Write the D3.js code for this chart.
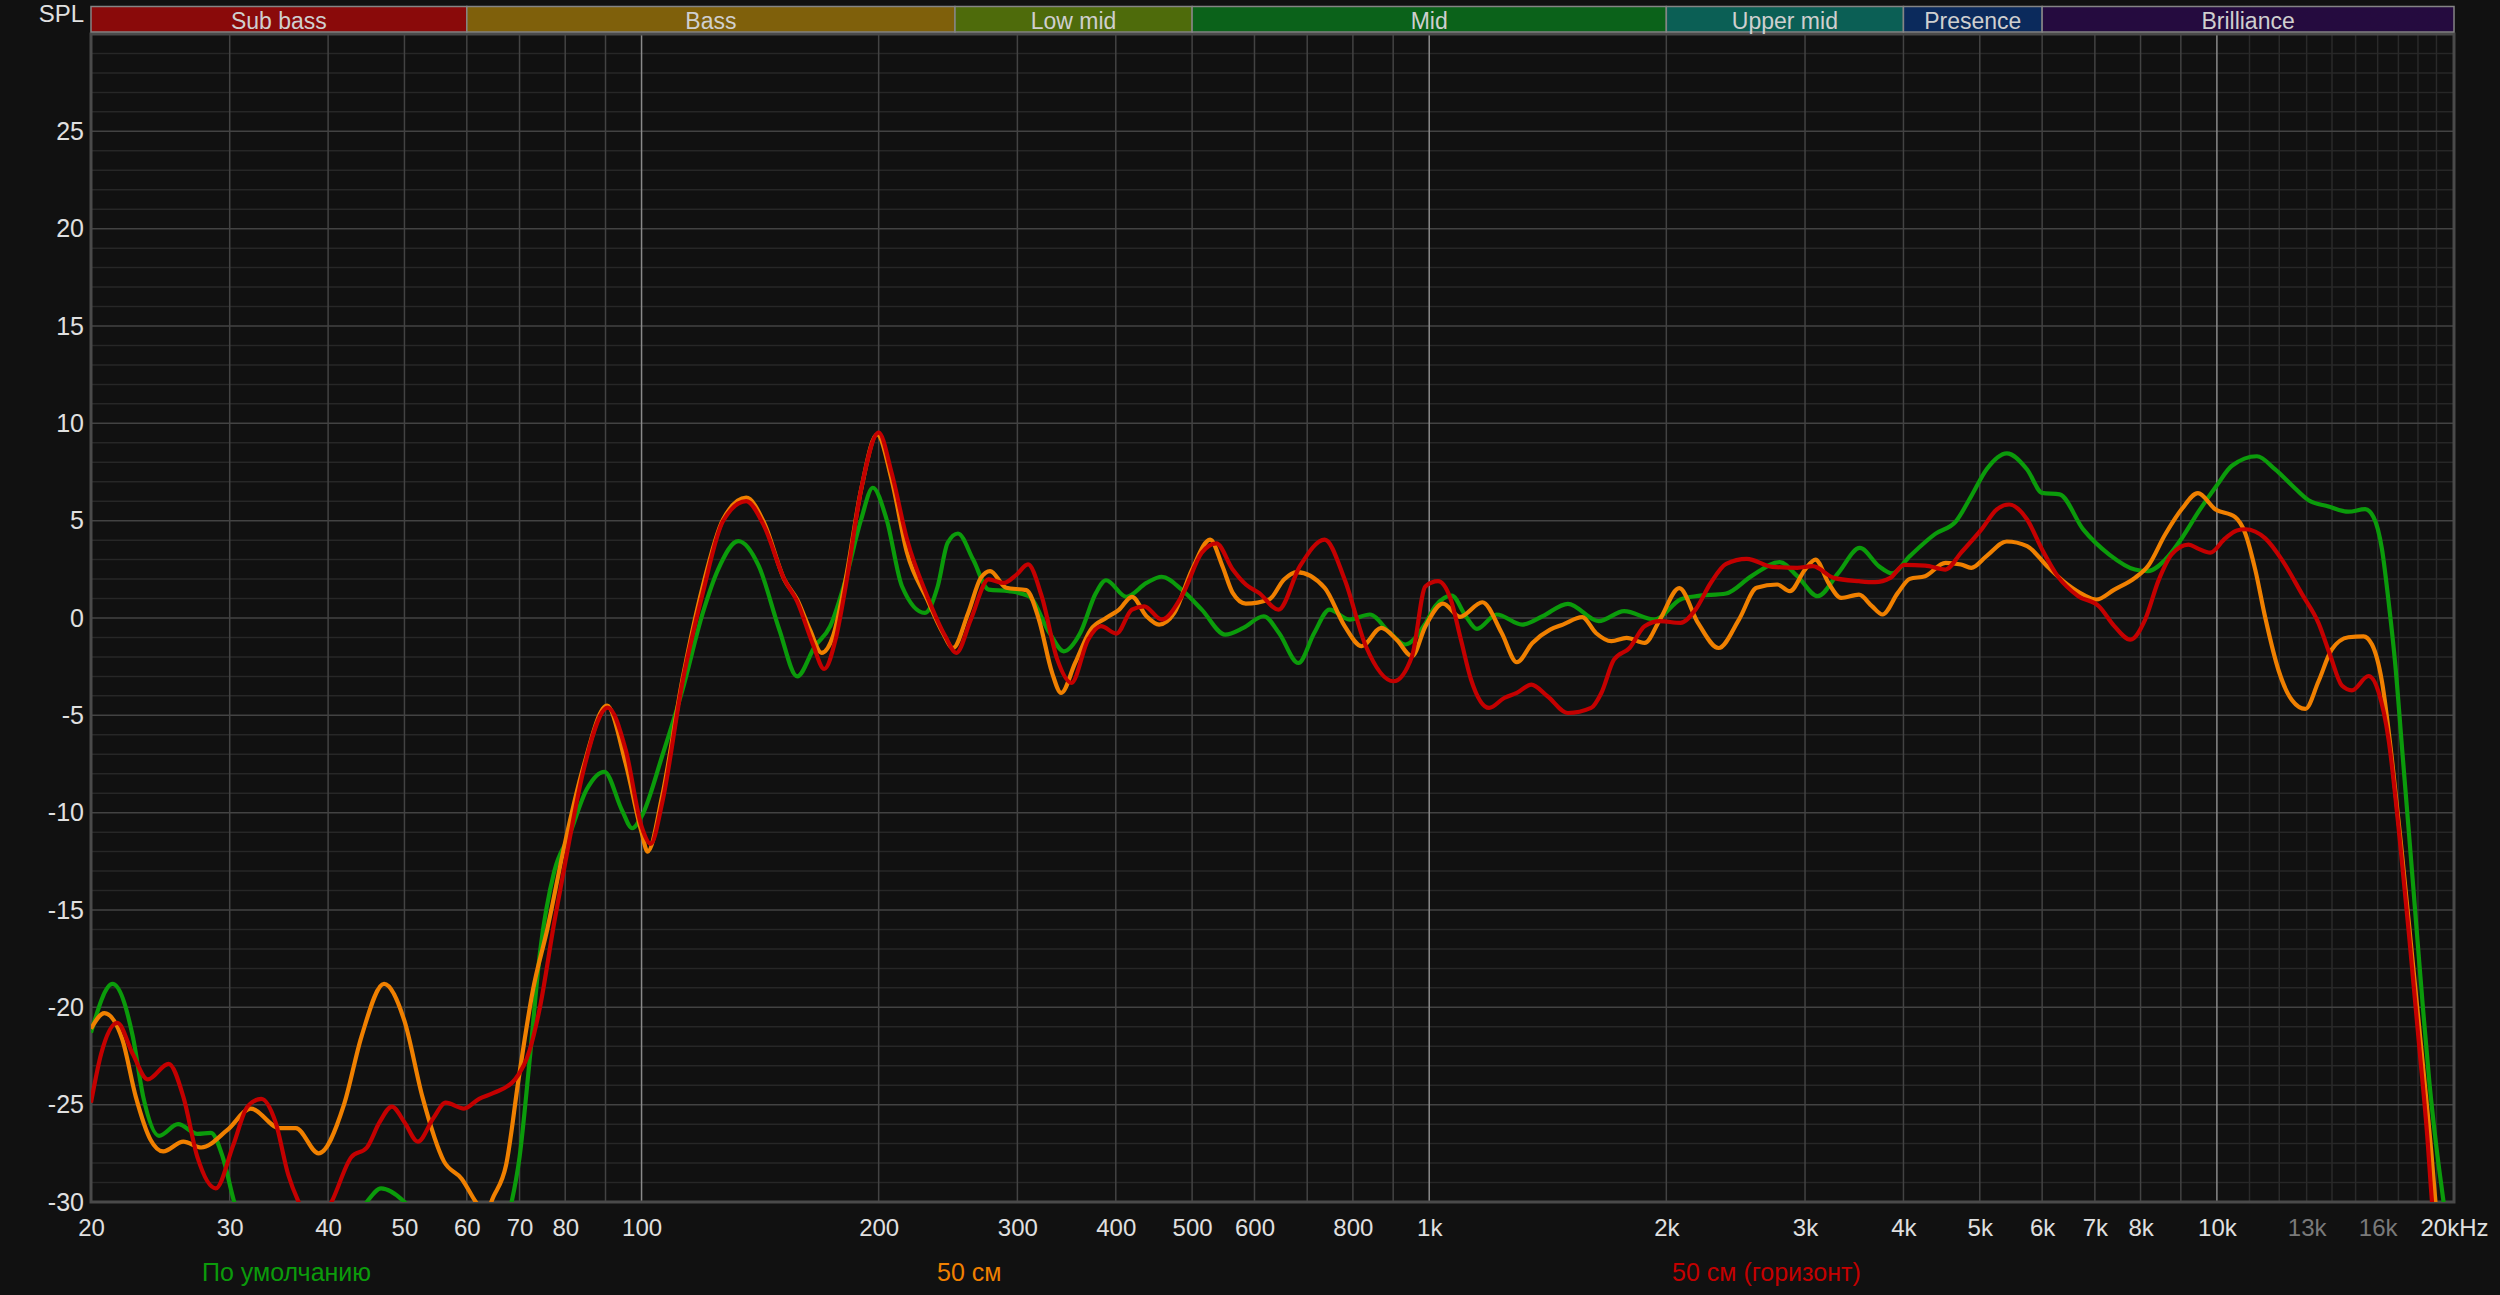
<!DOCTYPE html>
<html>
<head>
<meta charset="utf-8">
<script src="https://d3js.org/d3.v7.min.js"></script>
<style>
  body { margin: 0; background: #111111; }
  svg { display: block; }
  text { font-family: "Liberation Sans", Arial, sans-serif; }
</style>
</head>
<body>
<div id="chart"></div>
<script>
// frequency bands across the top
var bandNames = ["Sub bass", "Bass", "Low mid", "Mid", "Upper mid", "Presence", "Brilliance"];
var bandEdges = [20, 60, 250, 500, 2000, 4000, 6000, 20000];
var bandColors = ["#8a0a0a", "#7f600b", "#4e6b0b", "#0b621a", "#0b5f55", "#0b2a5c", "#250b3f"];

// axis ticks
var xTickValues = [20, 30, 40, 50, 60, 70, 80, 100, 200, 300, 400, 500, 600, 800, 1000,
    2000, 3000, 4000, 5000, 6000, 7000, 8000, 10000, 13000, 16000, 20000];
var xTickLabels = ["20", "30", "40", "50", "60", "70", "80", "100", "200", "300", "400", "500", "600", "800", "1k",
    "2k", "3k", "4k", "5k", "6k", "7k", "8k", "10k", "13k", "16k", "20kHz"];
var xDimTicks = [13000, 16000];
var yTickValues = [25, 20, 15, 10, 5, 0, -5, -10, -15, -20, -25, -30];

// legend
var seriesNames = ["По умолчанию", "50 см", "50 см (горизонт)"];
var seriesColors = ["#0b9b0b", "#f08000", "#c40000"];

// measured curves [Hz, dB]
var curveDefault = [[20,-21.3],[21.3,-18.8],[22.6,-21.5],[23.3,-24.6],[24.4,-26.6],[25.8,-26.0],[27.3,-26.5],[28.4,-26.45],
    [29.4,-27.7],[30.4,-30],[33,-33],[38,-34],[42,-32],[44.8,-30],[46.7,-29.3],[50,-30],[55,-32.5],[62,-34],[66,-32],
    [68.4,-30],[70,-27.7],[72.1,-22.7],[74.3,-17.2],[77.5,-13.0],[80.9,-11.2],[85.2,-8.8],[89.7,-7.9],[94.5,-9.9],
    [97.3,-10.8],[100,-10.2],[106.2,-7.1],[112.7,-3.7],[119.6,0.26],[125.1,2.5],[132.7,3.95],[140.9,2.66],[149.6,-0.6],
    [157.6,-3.0],[166,-1.45],[173.6,-0.42],[181.6,1.98],[190,5.06],[196.6,6.69],[204.7,5.06],[214.1,1.63],[228.9,0.26],
    [237.7,1.63],[244.7,3.86],[252.2,4.34],[263.6,3.0],[275.8,1.46],[292.6,1.38],[310.2,1.12],[329.6,-0.77],[343.5,-1.71],
    [360.5,-0.77],[377.5,1.29],[388.8,1.94],[412.6,1.09],[437.6,1.8],[457.4,2.12],[485,1.46],[514.3,0.43],[550.8,-0.85],
    [580.7,-0.51],[616.3,0.09],[644.6,-0.77],[682.1,-2.31],[714.5,-0.77],[747.1,0.43],[792.4,-0.08],[840.6,0.18],
    [891.7,-0.77],[932.2,-1.36],[990,-0.25],[1018,0.61],[1068,1.15],[1113,0.09],[1150,-0.56],[1218,0.18],[1312,-0.34],
    [1393,0.09],[1500,0.73],[1641,-0.16],[1768,0.35],[1933,-0.08],[2084,0.95],[2178,1.12],[2382,1.26],[2565,2.15],
    [2786,2.87],[2933,2.15],[3114,1.12],[3307,2.32],[3521,3.6],[3723,2.66],[3869,2.29],[4075,3.18],[4390,4.32],
    [4666,4.98],[4877,6.26],[5099,7.63],[5410,8.46],[5742,7.63],[5999,6.43],[6315,6.35],[6765,4.55],[7301,3.26],
    [7870,2.49],[8172,2.41],[8600,3.0],[9026,4.1],[9478,5.46],[10000,6.82],[10449,7.82],[11240,8.31],[11859,7.63],
    [12450,6.82],[13074,6.05],[13860,5.73],[14690,5.46],[15425,5.59],[15810,5.18],[16200,3.55],[16520,0.83],
    [16850,-2.44],[17190,-6.79],[17540,-11.15],[17890,-15.5],[18250,-19.86],[18620,-23.94],[19000,-27.2],
    [19410,-30.07],[20000,-34]];

var curve50 = [[20,-21.1],[20.8,-20.3],[21.9,-21.6],[22.8,-24.6],[23.8,-26.8],[24.7,-27.4],[26.2,-26.9],[27.6,-27.2],
    [29.8,-26.3],[31.9,-25.2],[34.7,-26.2],[36.4,-26.2],[38.9,-27.5],[41.9,-25.0],[44.1,-21.5],[47.1,-18.8],[50,-20.7],
    [52.7,-24.6],[56.1,-27.9],[59.1,-28.8],[61.6,-30],[63.2,-30.6],[64.9,-29.7],[67.3,-28.1],[69.8,-23.7],[72.8,-19.1],
    [75.9,-16.0],[80,-11.5],[84.3,-7.7],[90.4,-4.5],[95.5,-7.5],[100,-11.0],[101.8,-12.0],[106.2,-9.16],[112.7,-3.16],
    [119.6,1.63],[126.9,5.06],[135.8,6.18],[143.1,4.89],[151.8,1.98],[157.6,0.95],[163.6,-0.6],[169.3,-1.79],[175,-0.94],
    [181.6,1.98],[190,6.6],[199.1,9.43],[207.7,7.12],[217.3,3.35],[230.5,0.95],[241.3,-0.77],[248.5,-1.54],[259.8,0.26],
    [269.6,2.06],[277,2.41],[290.4,1.55],[308,1.43],[319.5,-0.08],[332.1,-2.82],[341,-3.85],[355.2,-2.31],[371.8,-0.6],
    [388.8,0.0],[404,0.43],[419.3,1.09],[437.6,0.09],[454,-0.34],[474.6,0.26],[500,2.49],[527,4.03],[546.4,2.66],
    [563,1.29],[585,0.74],[626.3,0.95],[654.2,1.98],[679,2.36],[736.7,1.55],[781,-0.42],[821,-1.45],[869,-0.51],
    [909,-1.11],[951,-1.96],[989,-0.42],[1041,0.74],[1094,0.06],[1168,0.81],[1236,-0.77],[1292,-2.27],[1352,-1.28],
    [1424,-0.6],[1478,-0.34],[1564,0.04],[1628,-0.77],[1703,-1.19],[1781,-1.02],[1877,-1.28],[1963,-0.08],[2077,1.53],
    [2194,-0.25],[2330,-1.54],[2473,-0.08],[2604,1.55],[2766,1.72],[2870,1.38],[3000,2.49],[3093,3.0],[3213,1.8],
    [3334,1.03],[3512,1.2],[3648,0.61],[3762,0.18],[3935,1.29],[4075,2.01],[4262,2.15],[4523,2.83],[4732,2.75],
    [4877,2.58],[5099,3.18],[5410,3.93],[5742,3.69],[6088,2.66],[6459,1.72],[6765,1.2],[7030,0.95],[7410,1.46],
    [7870,2.06],[8186,2.7],[8600,4.3],[9026,5.6],[9460,6.41],[9950,5.59],[10550,5.18],[10860,4.37],[11190,2.46],
    [11520,0.01],[11980,-2.71],[12450,-4.21],[12950,-4.67],[13460,-3.25],[13990,-1.62],[14690,-0.99],[15350,-0.94],
    [15730,-1.35],[16200,-3.25],[16690,-7.34],[17190,-12.24],[17700,-17.41],[18250,-22.85],[18720,-27.48],
    [18950,-30.06],[19500,-34]];

var curve50h = [[20,-24.9],[20.6,-22.4],[21.6,-20.8],[22.6,-22.4],[23.6,-23.7],[25.1,-22.9],[26.2,-24.6],[27.3,-27.7],
    [28.8,-29.3],[30.3,-27.1],[31.6,-25.1],[32.9,-24.7],[34.3,-25.9],[35.6,-28.6],[36.7,-30],[38.5,-31.3],[40.4,-30],
    [42.8,-27.7],[44.8,-27.2],[46.5,-25.9],[48.2,-25.1],[50,-25.9],[52,-26.9],[54.4,-25.7],[56.4,-24.9],[59.5,-25.2],
    [62.2,-24.7],[64.9,-24.4],[69.1,-23.7],[72.1,-22.2],[74.3,-20.0],[77.5,-15.6],[80.9,-11.5],[84.3,-7.9],[90.6,-4.6],
    [95.5,-6.8],[100,-10.7],[102.7,-11.6],[106.2,-9.5],[112.7,-3.3],[119.6,1.29],[126.9,4.98],[135.8,6.0],[143.1,4.72],
    [151.8,1.98],[157.6,0.86],[164.8,-1.28],[170.6,-2.62],[176.3,-1.11],[181.6,1.63],[190,6.6],[200,9.52],[207.7,7.46],
    [217.3,4.03],[230.5,1.12],[243,-0.94],[251,-1.79],[261.8,-0.08],[275.8,1.98],[288.3,1.8],[299.3,2.23],[309.5,2.75],
    [322.1,1.12],[337.2,-2.14],[351.3,-3.33],[368.9,-1.11],[383,-0.42],[400.8,-0.8],[419.3,0.43],[434.6,0.6],
    [457.4,-0.08],[485,1.12],[514.3,3.35],[536.7,3.83],[563,2.49],[585,1.72],[608,1.29],[643.6,0.43],[685.2,2.66],
    [736.7,4.03],[781,1.98],[831,-1.45],[901,-3.25],[951,-1.96],[989,1.63],[1026,1.89],[1065,0.95],[1097,-1.11],
    [1130,-3.16],[1191,-4.62],[1245,-4.11],[1292,-3.85],[1348,-3.42],[1413,-4.02],[1500,-4.88],[1605,-4.62],
    [1654,-3.85],[1716,-2.14],[1796,-1.54],[1877,-0.42],[1963,-0.16],[2084,-0.25],[2178,0.43],[2277,1.8],[2382,2.78],
    [2530,3.04],[2726,2.63],[2933,2.58],[3069,2.66],[3261,2.06],[3512,1.89],[3679,1.84],[3850,2.06],[4008,2.73],
    [4262,2.69],[4523,2.49],[4732,3.35],[5025,4.55],[5256,5.58],[5448,5.83],[5742,5.06],[5999,3.52],[6278,2.15],
    [6669,1.12],[7083,0.6],[7410,-0.42],[7766,-1.11],[8108,-0.08],[8430,1.92],[8768,3.28],[9204,3.77],[9478,3.55],
    [9807,3.36],[10247,4.09],[10602,4.5],[10864,4.56],[11520,4.09],[12090,3.0],[12820,1.24],[13460,-0.26],
    [13920,-1.89],[14410,-3.47],[14840,-3.72],[15580,-2.98],[16040,-3.8],[16520,-6.25],[17020,-10.88],[17540,-16.32],
    [18070,-22.04],[18500,-26.66],[18760,-30.06],[19300,-34]];

var curves = [curveDefault, curve50, curve50h];

// 1) canvas
var svgWidth = 2500;
var svgHeight = 1295;
var margin = { top: 34, right: 46, bottom: 93, left: 91 };
var chartWidth = svgWidth - margin.left - margin.right;
var chartHeight = svgHeight - margin.top - margin.bottom;

var svg = d3.select("#chart")
    .append("svg")
    .attr("width", svgWidth)
    .attr("height", svgHeight);

svg.append("rect")
    .attr("width", svgWidth)
    .attr("height", svgHeight)
    .attr("fill", "#111111");

var chartGroup = svg.append("g")
    .attr("transform", `translate(${margin.left}, ${margin.top})`);

// 2) scales
var xScale = d3.scaleLog()
    .domain([20, 20000])
    .range([0, chartWidth]);

var yScale = d3.scaleLinear()
    .domain([-30, 30])
    .range([chartHeight, 0]);

// 3) grid
var minorDb = d3.range(-29, 30).filter(d => d % 5 !== 0);
var majorDb = d3.range(-25, 30, 5);

chartGroup.append("g").selectAll("line")
    .data(minorDb)
    .enter()
    .append("line")
    .attr("x1", 0).attr("x2", chartWidth)
    .attr("y1", d => yScale(d)).attr("y2", d => yScale(d))
    .attr("stroke", "#272727")
    .attr("stroke-width", 1.5);

var gridFreqs = [];
[10, 100, 1000].forEach(function(dec) {
    d3.range(1, 10).forEach(function(m) {
        var f = m * dec;
        if (f > 20) gridFreqs.push(f);
    });
});
var fineFreqs = d3.range(11000, 20000, 1000);

chartGroup.append("g").selectAll("line")
    .data(fineFreqs)
    .enter()
    .append("line")
    .attr("x1", d => xScale(d)).attr("x2", d => xScale(d))
    .attr("y1", 0).attr("y2", chartHeight)
    .attr("stroke", "#2a2a2a")
    .attr("stroke-width", 1.5);

chartGroup.append("g").selectAll("line")
    .data(majorDb)
    .enter()
    .append("line")
    .attr("x1", 0).attr("x2", chartWidth)
    .attr("y1", d => yScale(d)).attr("y2", d => yScale(d))
    .attr("stroke", "#434343")
    .attr("stroke-width", 1.5);

chartGroup.append("g").selectAll("line")
    .data(gridFreqs.concat([10000]))
    .enter()
    .append("line")
    .attr("x1", d => xScale(d)).attr("x2", d => xScale(d))
    .attr("y1", 0).attr("y2", chartHeight)
    .attr("stroke", d => (d === 100 || d === 1000 || d === 10000) ? "#8a8a8a" : "#434343")
    .attr("stroke-width", 1.5);

// plot frame
chartGroup.append("rect")
    .attr("x", 0).attr("y", 0)
    .attr("width", chartWidth).attr("height", chartHeight)
    .attr("fill", "none")
    .attr("stroke", "#4a4a4a")
    .attr("stroke-width", 3);

// 4) band bar
var bands = bandNames.map((name, i) => ({ name: name, lo: bandEdges[i], hi: bandEdges[i + 1], color: bandColors[i] }));

var bandGroup = svg.append("g")
    .attr("transform", `translate(${margin.left}, 0)`);

bandGroup.selectAll("rect")
    .data(bands)
    .enter()
    .append("rect")
    .attr("x", d => xScale(d.lo))
    .attr("y", 6.5)
    .attr("width", d => xScale(d.hi) - xScale(d.lo))
    .attr("height", 25.5)
    .attr("fill", d => d.color)
    .attr("stroke", "#858585")
    .attr("stroke-width", 1.5);

bandGroup.selectAll("text")
    .data(bands)
    .enter()
    .append("text")
    .attr("x", d => (xScale(d.lo) + xScale(d.hi)) / 2)
    .attr("y", 28.5)
    .attr("text-anchor", "middle")
    .attr("font-size", 23)
    .attr("fill", "#cfcfcf")
    .text(d => d.name);

// 5) curves
svg.append("defs").append("clipPath")
    .attr("id", "plotClip")
    .append("rect")
    .attr("width", chartWidth)
    .attr("height", chartHeight);

var line = d3.line()
    .x(d => xScale(d[0]))
    .y(d => yScale(d[1]))
    .curve(d3.curveMonotoneX);

chartGroup.append("g")
    .attr("clip-path", "url(#plotClip)")
    .selectAll("path")
    .data(curves)
    .enter()
    .append("path")
    .attr("d", line)
    .attr("fill", "none")
    .attr("stroke", (d, i) => seriesColors[i])
    .attr("stroke-width", 4.2)
    .attr("stroke-linejoin", "round");

// 6) axes
var bottomAxis = d3.axisBottom(xScale)
    .tickValues(xTickValues)
    .tickFormat((d, i) => xTickLabels[i])
    .tickSize(0)
    .tickPadding(17);

var xAxisGroup = chartGroup.append("g")
    .attr("transform", `translate(0, ${chartHeight})`)
    .call(bottomAxis);
xAxisGroup.select(".domain").remove();
xAxisGroup.selectAll("text")
    .attr("font-size", 24)
    .attr("font-family", "Liberation Sans, Arial, sans-serif")
    .attr("fill", d => xDimTicks.indexOf(d) >= 0 ? "#7a7a7a" : "#e0e0e0");

var leftAxis = d3.axisLeft(yScale)
    .tickValues(yTickValues)
    .tickFormat(d => String(d))
    .tickSize(0)
    .tickPadding(7);

var yAxisGroup = chartGroup.append("g")
    .call(leftAxis);
yAxisGroup.select(".domain").remove();
yAxisGroup.selectAll("text")
    .attr("font-size", 25)
    .attr("font-family", "Liberation Sans, Arial, sans-serif")
    .attr("fill", "#e0e0e0");

svg.append("text")
    .attr("x", 84)
    .attr("y", 22)
    .attr("text-anchor", "end")
    .attr("font-size", 24)
    .attr("fill", "#e0e0e0")
    .text("SPL");

// 7) legend
var legendX = [202, 937, 1672];
svg.append("g").selectAll("text")
    .data(seriesNames)
    .enter()
    .append("text")
    .attr("x", (d, i) => legendX[i])
    .attr("y", 1281)
    .attr("font-size", 25)
    .attr("fill", (d, i) => seriesColors[i])
    .text(d => d);
</script>
</body>
</html>
